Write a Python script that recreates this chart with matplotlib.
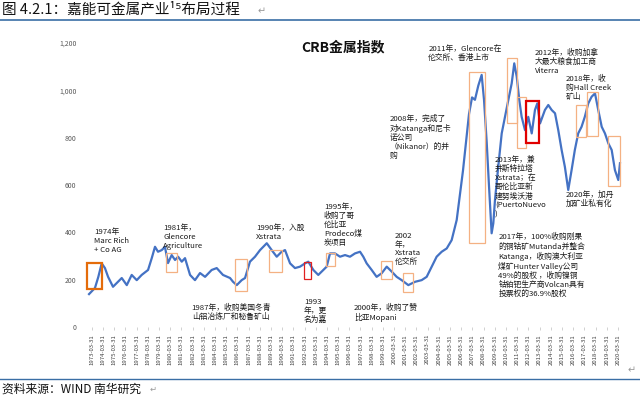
import matplotlib
matplotlib.use("Agg")
import matplotlib.pyplot as plt
from matplotlib.lines import Line2D
from matplotlib.patches import Rectangle

plt.rcParams['font.family'] = ['Noto Sans CJK SC', 'DejaVu Sans']

# CRB metals index (decimal year, level)
years = [1973.01, 1973.54, 1973.84, 1974.14, 1974.43, 1974.71, 1975.15, 1975.60,
         1975.93, 1976.38, 1976.82, 1977.27, 1977.71, 1978.28, 1978.61, 1978.90,
         1979.17, 1979.50, 1979.79, 1980.06, 1980.39, 1980.69, 1980.96, 1981.29,
         1981.58, 1982.03, 1982.47, 1982.92, 1983.37, 1983.96, 1984.41, 1984.97,
         1985.60, 1985.87, 1986.20, 1986.64, 1986.94, 1987.38, 1987.83, 1988.28,
         1988.88, 1989.32, 1989.77, 1990.21, 1990.51, 1990.96, 1991.40, 1991.85,
         1992.30, 1992.59, 1993.04, 1993.48, 1993.93, 1994.23, 1994.53, 1994.97,
         1995.42, 1995.87, 1996.31, 1996.76, 1997.21, 1997.50, 1997.80, 1998.25,
         1998.69, 1999.14, 1999.59, 2000.04, 2000.48, 2000.93, 2001.52, 2002.12,
         2002.71, 2003.16, 2003.61, 2004.05, 2004.50, 2004.95, 2005.39, 2005.84,
         2006.13, 2006.40, 2006.67, 2006.94, 2007.21, 2007.47, 2007.77, 2008.07,
         2008.28, 2008.52, 2008.72, 2008.96, 2009.11, 2009.26, 2009.55, 2009.86,
         2010.15, 2010.45, 2010.75, 2010.98, 2011.20, 2011.43, 2011.64, 2011.94,
         2012.23, 2012.54, 2012.83, 2013.04, 2013.28, 2013.72, 2014.02, 2014.32,
         2014.62, 2014.91, 2015.21, 2015.50, 2015.80, 2016.10, 2016.39, 2016.69,
         2016.99, 2017.28, 2017.59, 2017.89, 2018.19, 2018.48, 2018.79, 2019.08,
         2019.38, 2019.68, 2019.97, 2020.27, 2020.42]
crb = [139, 165, 212, 269, 249, 212, 170, 191,
       207, 177, 220, 198, 220, 241, 291, 339,
       318, 325, 339, 270, 304, 283, 297, 276,
       291, 220, 198, 228, 212, 241, 249, 220,
       207, 191, 177, 198, 207, 276, 297, 325,
       354, 325, 297, 318, 325, 269, 249, 255,
       269, 276, 241, 220, 241, 255, 311, 311,
       297, 304, 297, 311, 318, 297, 269, 241,
       212, 227, 255, 234, 212, 198, 177, 191,
       198, 212, 255, 297, 318, 332, 367, 452,
       560, 660, 780, 900, 970, 960, 1020, 1065,
       960, 780, 600, 396, 438, 537, 677, 818,
       888, 959, 1029, 1114, 1058, 959, 888, 832,
       888, 818, 917, 945, 860, 917, 938, 917,
       903, 832, 748, 677, 579, 663, 748, 818,
       846, 888, 945, 973, 987, 917, 846, 818,
       776, 748, 663, 621, 692]

tick_years = list(range(1973, 2021))
tick_labels = [f"{y}-03-31" for y in tick_years]

# highlight boxes around the events: start, end, low, high, style
box_start = [1972.80, 1979.88, 1986.04, 1989.11, 1992.21, 1994.17, 1999.05, 2001.02,
             2006.96, 2010.30, 2011.20, 2012.03, 2016.47, 2017.45, 2019.32]
box_end = [1974.14, 1980.84, 1987.09, 1990.21, 1992.80, 1994.97, 2000.09, 2001.96,
           2008.39, 2011.20, 2012.03, 2013.21, 2017.36, 2018.48, 2020.42]
box_low = [160, 234, 153, 234, 201, 258, 201, 149, 355, 861, 755, 776, 804, 807, 596]
box_high = [269, 311, 286, 325, 276, 314, 280, 227, 1077, 1135, 973, 956, 938, 994, 807]
box_kind = ['strong', 'light', 'light', 'light', 'red', 'light', 'light', 'light',
            'light', 'light', 'light', 'redbold', 'light', 'light', 'light']

# event notes: anchor (top-left) and text
note_x = [1973.46, 1979.64, 1982.18, 1987.92, 1992.21, 1993.98, 1996.67, 2000.33,
          1999.82, 2003.30, 2009.26, 2012.83, 2015.60, 2015.60, 2009.55]
note_y = [418, 435, 97, 435, 121, 525, 97, 403,
          896, 1191, 722, 1177, 1065, 576, 396]
notes = [
    "1974年\nMarc Rich\n+ Co AG",
    "1981年，\nGlencore\nAgriculture",
    "1987年，收购美国冬青\n山铝冶炼厂和秘鲁矿山",
    "1990年，入股\nXstrata",
    "1993\n年，更\n名为嘉",
    "1995年，\n收购了哥\n伦比亚\nProdeco煤\n炭项目",
    "2000年，收购了赞\n比亚Mopani",
    "2002\n年，\nXstrata\n伦交所",
    "2008年，完成了\n对Katanga和尼卡\n诺公司\n（Nikanor）的并\n购",
    "2011年，Glencore在\n伦交所、香港上市",
    "2013年，兼\n并斯特拉塔\nXstrata；在\n哥伦比亚新\n建努埃沃港\n(PuertoNuevo\n)",
    "2012年，收购加拿\n大最大粮食加工商\nViterra",
    "2018年，收\n购Hall Creek\n矿山",
    "2020年，加丹\n加矿业私有化",
    "2017年，100%收购刚果\n的铜钴矿Mutanda并整合\nKatanga，收购澳大利亚\n煤矿Hunter Valley公司\n49%的股权 ，收购镍铜\n钴铂钯生产商Volcan具有\n投票权的36.9%股权",
]

BOX_STYLE = {
    'light': ('#F4B183', 0.9),
    'strong': ('#E46C0A', 1.6),
    'red': ('#E02020', 0.9),
    'redbold': ('#E00000', 1.6),
}

fig = plt.figure(figsize=(6.4, 3.97), dpi=100)
ax = fig.add_axes([0.1302, 0.1763, 0.8469, 0.7154])

ax.plot(years, crb, color='#4472C4', lw=1.6, zorder=3)

for x0, x1, lo, hi, kind in zip(box_start, box_end, box_low, box_high, box_kind):
    col, lw = BOX_STYLE[kind]
    ax.add_patch(Rectangle((x0, lo), x1 - x0, hi - lo, fill=False,
                           edgecolor=col, lw=lw, zorder=4))

for x, y, txt in zip(note_x, note_y, notes):
    ax.text(x, y, txt, fontsize=5.6, color='#1a1a1a', ha='left', va='top',
            linespacing=1.15, zorder=5)

ax.set_xlim(1972.5, 2020.9)
ax.set_ylim(0, 1200)
ax.set_yticks([0, 200, 400, 600, 800, 1000, 1200])
ax.set_yticklabels(['0', '200', '400', '600', '800', '1,000', '1,200'])
ax.set_xticks([y + 0.25 for y in tick_years])
ax.set_xticklabels(tick_labels, rotation=90)
ax.tick_params(axis='y', length=0, pad=5, labelsize=5, labelcolor='#595959')
ax.tick_params(axis='x', length=2, width=0.5, color='#bfbfbf', pad=3,
               labelsize=4.3, labelcolor='#404040')
for side in ['top', 'right', 'left', 'bottom']:
    ax.spines[side].set_visible(False)

ax.text(0.48, 0.985, "CRB金属指数", transform=ax.transAxes, ha='center',
        va='center', fontsize=10, fontweight='bold', color='#111111')

# page furniture: caption, rules, source line
fig.text(2 / 640, 1 - 10 / 397, "图 4.2.1：嘉能可金属产业¹⁵布局过程", fontsize=10.5,
         ha='left', va='center', color='#111111')
fig.text(258 / 640, 1 - 11 / 397, "↵", fontsize=7, ha='left', va='center', color='#999999')
fig.add_artist(Line2D([0, 1], [1 - 20 / 397] * 2, color='#3A6EA5', lw=1.2))
fig.text(628 / 640, 1 - 370 / 397, "↵", fontsize=7, ha='left', va='center', color='#999999')
fig.add_artist(Line2D([0, 1], [1 - 379 / 397] * 2, color='#3A6EA5', lw=1.0))
fig.text(2 / 640, 1 - 389 / 397, "资料来源：WIND 南华研究", fontsize=8.5,
         ha='left', va='center', color='#111111')
fig.text(150 / 640, 1 - 389 / 397, "↵", fontsize=6, ha='left', va='center', color='#999999')

fig.savefig("out.png", dpi=100)
